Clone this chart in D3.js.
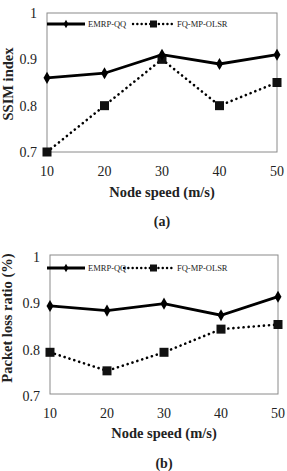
<!DOCTYPE html>
<html>
<head>
<meta charset="utf-8">
<script src="https://cdn.jsdelivr.net/npm/d3@7"></script>
<style>
  body { margin: 0; background: #fff; }
  svg { display: block; font-family: "Liberation Serif", "Times New Roman", serif; }
</style>
</head>
<body>
<svg id="chart" width="287" height="471"></svg>
<script>
// Two stacked panels: SSIM index and packet loss ratio vs node speed.
const speeds = [10, 20, 30, 40, 50];
const yTicks = [0.7, 0.8, 0.9, 1];
const seriesNames = ["EMRP-QQ", "FQ-MP-OLSR"];

const ssimEmrp = [0.86, 0.87, 0.91, 0.89, 0.91];
const ssimFq = [0.70, 0.80, 0.90, 0.80, 0.85];

const lossEmrp = [0.89, 0.88, 0.895, 0.87, 0.91];
const lossFq = [0.79, 0.75, 0.79, 0.84, 0.85];

const svg = d3.select("#chart");

function drawPanel(opts) {
  const { left, right, top, bottom } = opts.box;

  const x = d3.scaleLinear().domain([10, 50]).range([left, right]);
  const y = d3.scaleLinear().domain([0.7, 1]).range([bottom, top]);

  const g = svg.append("g");

  // plot frame
  g.append("rect")
    .attr("x", left)
    .attr("y", top)
    .attr("width", right - left)
    .attr("height", bottom - top)
    .attr("fill", "none")
    .attr("stroke", "#8a8a8a")
    .attr("stroke-width", 1);

  // y tick labels (no tick marks in the original)
  g.selectAll(".ylab")
    .data(yTicks)
    .join("text")
    .attr("x", left - 10)
    .attr("y", d => y(d) + opts.yLabShift)
    .attr("dy", "0.35em")
    .attr("text-anchor", "end")
    .attr("font-size", 14)
    .attr("fill", "#222")
    .text(d => d === 1 ? "1" : d3.format(".1f")(d));

  g.selectAll(".xlab")
    .data(speeds)
    .join("text")
    .attr("x", d => x(d))
    .attr("y", opts.xTickY)
    .attr("text-anchor", "middle")
    .attr("font-size", 14)
    .attr("fill", "#222")
    .text(d => d);

  g.append("text")
    .attr("x", (left + right) / 2)
    .attr("y", opts.xTitleY)
    .attr("text-anchor", "middle")
    .attr("font-size", 14.5)
    .attr("font-weight", "bold")
    .attr("fill", "#222")
    .text("Node speed (m/s)");

  g.append("text")
    .attr("transform", `translate(${opts.yTitleX},${opts.yTitleMid}) rotate(-90)`)
    .attr("text-anchor", "middle")
    .attr("font-size", 14.5)
    .attr("font-weight", "bold")
    .attr("fill", "#222")
    .text(opts.yTitle);

  g.append("text")
    .attr("x", (left + right) / 2)
    .attr("y", opts.captionY)
    .attr("text-anchor", "middle")
    .attr("font-size", 14)
    .attr("font-weight", "bold")
    .attr("fill", "#222")
    .text(opts.caption);

  const line = d3.line()
    .x((d, i) => x(speeds[i]))
    .y(d => y(d));

  // FQ-MP-OLSR: dotted line with square markers
  g.append("path")
    .attr("d", line(opts.fq))
    .attr("fill", "none")
    .attr("stroke", "#000")
    .attr("stroke-width", 2.6)
    .attr("stroke-dasharray", "0.1,5")
    .attr("stroke-linecap", "round");

  g.selectAll(".sq")
    .data(opts.fq)
    .join("rect")
    .attr("x", (d, i) => x(speeds[i]) - 4.5)
    .attr("y", d => y(d) - 4.5)
    .attr("width", 9)
    .attr("height", 9)
    .attr("fill", "#111");

  // EMRP-QQ: solid line with diamond markers
  g.append("path")
    .attr("d", line(opts.emrp))
    .attr("fill", "none")
    .attr("stroke", "#000")
    .attr("stroke-width", 2.8);

  const diamond = d3.symbol().type(d3.symbolDiamond).size(42);
  g.selectAll(".dm")
    .data(opts.emrp)
    .join("path")
    .attr("transform", (d, i) => `translate(${x(speeds[i])},${y(d)})`)
    .attr("d", diamond)
    .attr("fill", "#000");

  // legend
  const ly = opts.legendY;
  const lg = g.append("g");
  lg.append("line")
    .attr("x1", 47).attr("x2", 85)
    .attr("y1", ly).attr("y2", ly)
    .attr("stroke", "#000").attr("stroke-width", 2.8);
  lg.append("path")
    .attr("transform", `translate(66,${ly})`)
    .attr("d", d3.symbol().type(d3.symbolDiamond).size(20))
    .attr("fill", "#000");
  lg.append("text")
    .attr("x", 88).attr("y", ly)
    .attr("dy", "0.35em")
    .attr("font-size", 8.5)
    .attr("fill", "#222")
    .text(seriesNames[0]);

  lg.append("line")
    .attr("x1", opts.legendDotX).attr("x2", 173)
    .attr("y1", ly).attr("y2", ly)
    .attr("stroke", "#000").attr("stroke-width", 2.4)
    .attr("stroke-dasharray", "0.1,4.2")
    .attr("stroke-linecap", "round");
  lg.append("rect")
    .attr("x", 150).attr("y", ly - 3.5)
    .attr("width", 7).attr("height", 7)
    .attr("fill", "#111");
  lg.append("text")
    .attr("x", 177).attr("y", ly)
    .attr("dy", "0.35em")
    .attr("font-size", 8.5)
    .attr("fill", "#222")
    .text(seriesNames[1]);
}

drawPanel({
  box: { left: 47, right: 277, top: 13, bottom: 152 },
  emrp: ssimEmrp,
  fq: ssimFq,
  yTitle: "SSIM index",
  yTitleX: 13,
  yTitleMid: 84,
  yLabShift: 0,
  xTickY: 176,
  xTitleY: 197,
  captionY: 226,
  caption: "(a)",
  legendY: 24,
  legendDotX: 133
});

drawPanel({
  box: { left: 50, right: 278, top: 255, bottom: 394 },
  emrp: lossEmrp,
  fq: lossFq,
  yTitle: "Packet loss ratio (%)",
  yTitleX: 12,
  yTitleMid: 318,
  yLabShift: 2,
  xTickY: 418,
  xTitleY: 438,
  captionY: 468,
  caption: "(b)",
  legendY: 268,
  legendDotX: 124
});
</script>
</body>
</html>
